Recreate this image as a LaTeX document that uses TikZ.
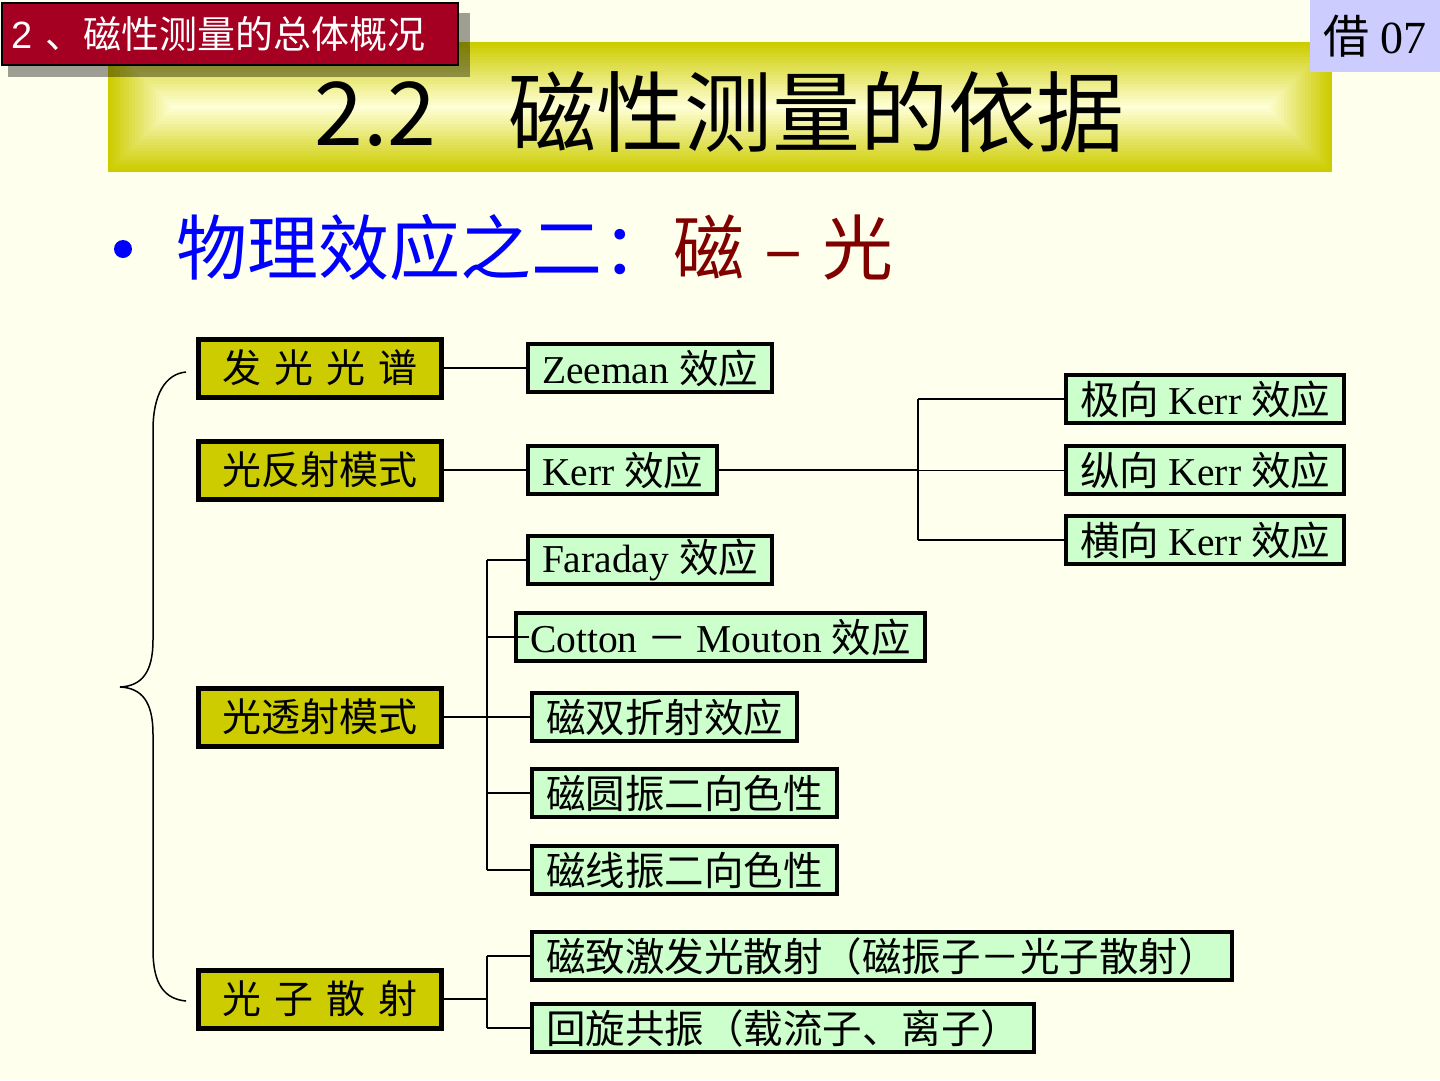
\documentclass[tikz,border=0pt]{standalone}
\usepackage{fontspec}
\setmainfont{Liberation Serif}
\newfontfamily\cjk{Noto Sans CJK SC}
\newfontfamily\arial{Liberation Sans}
\usetikzlibrary{calc}
\definecolor{PaperIvory}{RGB}{255,255,238}
\definecolor{TagRed}{RGB}{165,0,33}
\definecolor{TagLilac}{RGB}{204,204,255}
\definecolor{BarEdge}{RGB}{204,204,0}
\definecolor{BarLight}{RGB}{255,255,214}
\definecolor{ModeOlive}{RGB}{204,204,0}
\definecolor{EffectGreen}{RGB}{204,255,204}
\definecolor{PointBlue}{RGB}{0,0,255}
\definecolor{DeepRed}{RGB}{128,0,0}

\begin{document}
\begin{tikzpicture}[x=1pt,y=-1pt,
  modebox/.style={draw=black,line width=5pt,fill=ModeOlive,minimum width=243pt,minimum height=58pt,inner sep=0pt,font=\fontsize{39}{39}\cjk},
  effbox/.style={draw=black,line width=4pt,fill=EffectGreen,anchor=west,minimum height=48pt,inner xsep=14pt,inner ysep=0pt,font=\fontsize{39.5}{40}\selectfont},
  link/.style={line width=2pt}]
\useasboundingbox (0,0) rectangle (1440,1080);
\fill[PaperIvory] (0,0) rectangle (1440,1080);
% title bar
\foreach \i in {0,...,21}{
  \pgfmathtruncatemacro\mixpct{100*\i/21}
  \fill[BarLight!\mixpct!BarEdge] ({108+3*\i},{42+3*\i}) rectangle ({1332-3*\i},{172-3*\i});
}
\node[anchor=base west,inner sep=0pt,font=\fontsize{88}{88}\cjk] (title) at (314,145) {2.2\hspace{72pt}磁性测量的依据};
\fill[black,opacity=.38] (8,13) rectangle (470,77);
\node[draw=black,line width=1.5pt,fill=TagRed,text=white,anchor=north west,minimum height=62pt,text width=436pt,inner xsep=10pt,inner ysep=0pt,align=left,font=\fontsize{38}{38}\selectfont] (tag) at (1,2) {{\arial 2} {\cjk 、磁性测量的总体概况}};
\node[fill=TagLilac,anchor=north west,minimum width=130pt,minimum height=72pt,inner sep=0pt,font=\fontsize{46}{46}\selectfont] (page) at (1310,0) {{\cjk 借} 07};
% bullet line
\fill[PointBlue] (123,249) circle (9pt);
\node[anchor=base west,inner sep=0pt,font=\fontsize{71}{71}\cjk,text=PointBlue] (point) at (176,274) {物理效应之二：\textcolor{DeepRed}{磁\hspace{20pt}–\hspace{20pt}光}};
% modes
\node[modebox] (fgp) at (320,368) {发\hspace{13pt}光\hspace{13pt}光\hspace{13pt}谱};
\node[modebox] (gfs) at (320,470) {光反射模式};
\node[modebox] (gts) at (320,717) {光透射模式};
\node[modebox] (gzs) at (320,999) {光\hspace{13pt}子\hspace{13pt}散\hspace{13pt}射};
% effects
\node[effbox] (zeeman) at (526,368) {Zeeman {\cjk 效应}};
\node[effbox] (kerr) at (526,470) {Kerr {\cjk 效应}};
\node[effbox] (faraday) at (526,560) {Faraday {\cjk 效应}};
\node[effbox] (cotton) at (514,637) {Cotton {\cjk －} Mouton {\cjk 效应}};
\node[effbox] (scz) at (530,717) {{\cjk 磁双折射效应}};
\node[effbox] (cyz) at (530,793) {{\cjk 磁圆振二向色性}};
\node[effbox] (cxz) at (530,870) {{\cjk 磁线振二向色性}};
\node[effbox] (cjs) at (530,956) {{\cjk 磁致激发光散射（磁振子－光子散射）}};
\node[effbox] (hxgz) at (530,1028) {{\cjk 回旋共振（载流子、离子）}};
\node[effbox] (jx) at (1064,399) {{\cjk 极向} Kerr {\cjk 效应}};
\node[effbox] (zx) at (1064,470) {{\cjk 纵向} Kerr {\cjk 效应}};
\node[effbox] (hx) at (1064,540) {{\cjk 横向} Kerr {\cjk 效应}};
% links
\draw[link] (fgp.east) -- (zeeman.west);
\draw[link] (gfs.east) -- (kerr.west);
\coordinate (kj) at (918,470);
\draw[link] (kerr.east) -- (kj);
\draw[link] (kj |- jx.west) -- (kj |- hx.west);
\draw[link] (kj |- jx.west) -- (jx.west);
\draw[line width=1pt] (kj) -- (zx.west);
\draw[link] (kj |- hx.west) -- (hx.west);
\coordinate (tj) at (487,717);
\draw[link] (gts.east) -- (tj);
\draw[link] (tj |- faraday.west) -- (tj |- cxz.west);
\foreach \n in {faraday,scz,cyz,cxz}
  \draw[link] (tj |- \n.west) -- (\n.west);
\draw[link] (tj |- cotton.west) -- ([xshift=15pt]cotton.west);
\coordinate (sj) at (487,999);
\draw[link] (gzs.east) -- (sj);
\draw[link] (sj |- cjs.west) -- (sj |- hxgz.west);
\draw[link] (sj |- cjs.west) -- (cjs.west);
\draw[link] (sj |- hxgz.west) -- (hxgz.west);
% brace
\draw[line width=1.5pt] (186,372) .. controls (165,374) and (153,395) .. (153,430) -- (153,640)
  .. controls (153,672) and (142,686) .. (120,687) .. controls (142,688) and (153,702) .. (153,734)
  -- (153,950) .. controls (153,985) and (165,999) .. (186,1001);
\end{tikzpicture}
\end{document}
